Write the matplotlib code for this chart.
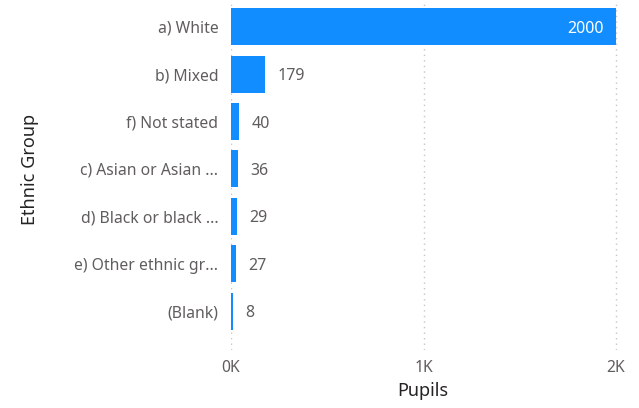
import matplotlib
matplotlib.use('Agg')
from matplotlib import pyplot as plt

# Chart data
groups = ['a) White', 'b) Mixed', 'f) Not stated', 'c) Asian or Asian ...',
          'd) Black or black ...', 'e) Other ethnic gr...', '(Blank)']
pupils = [2000, 179, 40, 36, 29, 27, 8]
x_ticks = [0, 1000, 2000]
x_tick_labels = ['0K', '1K', '2K']

plt.rcParams['font.family'] = ['Noto Sans', 'DejaVu Sans']

bar_color = '#118DFF'
label_color = '#605E5C'
title_color = '#252423'

fig = plt.figure(figsize=(6.39, 4.08), dpi=100)
ax = fig.add_axes([231 / 639, 1 - 350 / 408, 389 / 639, 347 / 408])

ypos = list(range(len(groups)))
ax.barh(ypos, pupils, height=0.78, color=bar_color, zorder=3)
ax.set_ylim(6.82, -0.5)
ax.set_xlim(0, 2000 * 389 / 385)

# Value labels: inside the long bar, outside for the rest
for y, v in zip(ypos, pupils):
    if v > 1500:
        ax.annotate(str(v), (v, y), xytext=(-9, 0), textcoords='offset points',
                    ha='right', va='center_baseline', color='white', fontsize=11.5, zorder=4)
    else:
        ax.annotate(str(v), (v, y), xytext=(9, 0), textcoords='offset points',
                    ha='left', va='center_baseline', color=label_color, fontsize=11.5, zorder=4)

ax.set_yticks(ypos)
ax.set_yticklabels(groups)
ax.set_xticks(x_ticks)
ax.set_xticklabels(x_tick_labels)
ax.tick_params(axis='y', length=0, pad=9, labelsize=11.3, labelcolor=label_color)
ax.tick_params(axis='x', length=0, pad=7, labelsize=11.3, labelcolor=label_color)

ax.grid(axis='x', linestyle=(0, (1, 3)), color='#C8C6C4', linewidth=1, zorder=0)
for s in ax.spines.values():
    s.set_visible(False)

fig.text(423 / 639, 1 - 391 / 408, 'Pupils', ha='center', va='center',
         fontsize=13, color=title_color)
fig.text(30 / 639, 1 - 169 / 408, 'Ethnic Group', rotation=90, ha='center', va='center',
         fontsize=13, color=title_color)

plt.savefig('out.png', dpi=100)
